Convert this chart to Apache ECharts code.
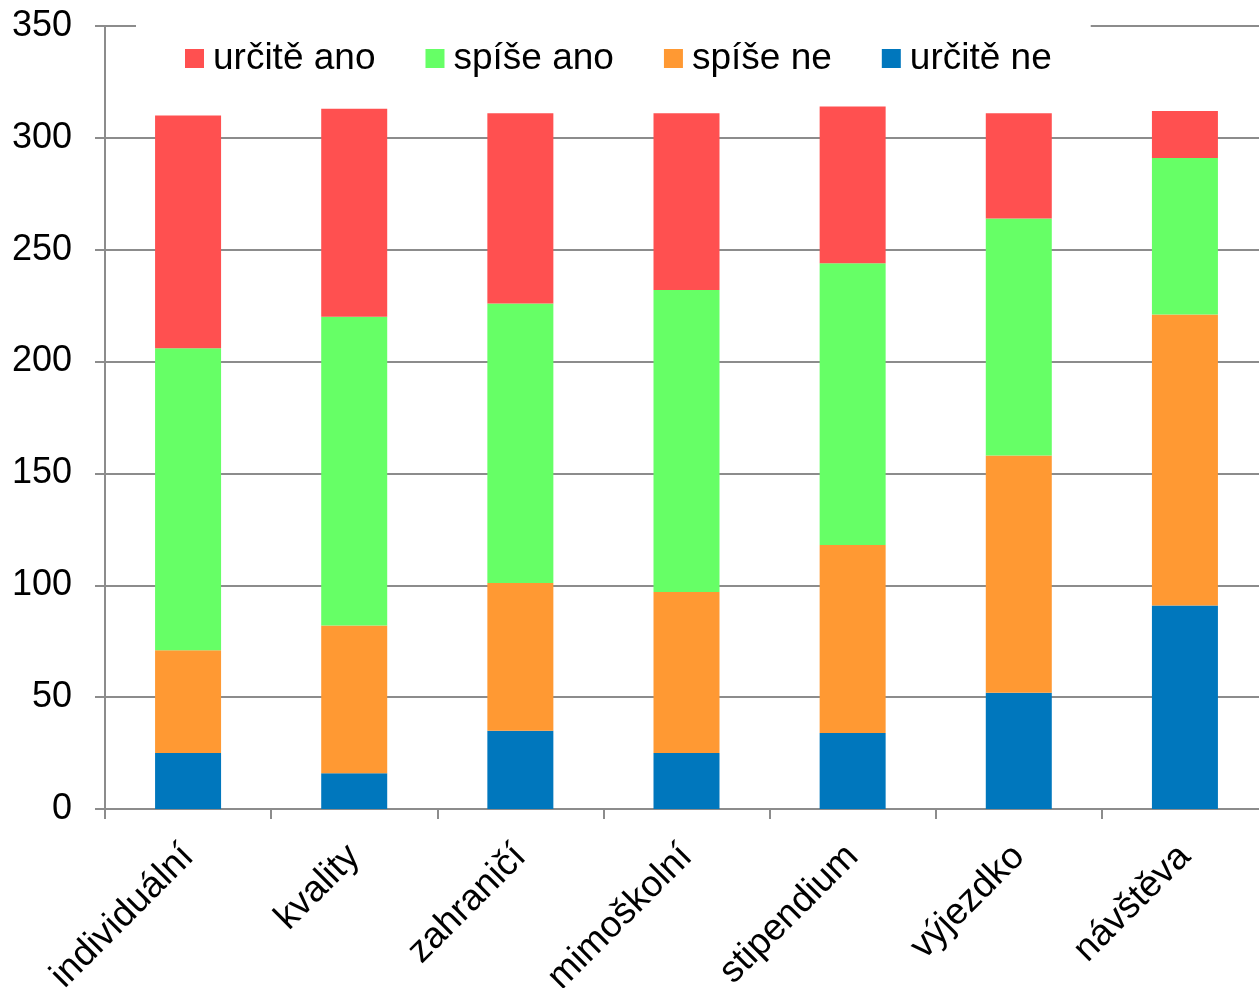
<!doctype html>
<html>
    <head>
        <meta charset="utf-8">
        <title>stacked bars</title>
        <style>
            html, body { margin: 0; padding: 0; background: #fff; }
            #main { width: 1259px; height: 988px; }
        </style>
    </head>
    <body>
        <div id="main"></div>
        <script src="https://cdn.jsdelivr.net/npm/echarts@6/dist/echarts.min.js"></script>
        <script>
            var categories = ['individuální', 'kvality', 'zahraničí', 'mimoškolní', 'stipendium', 'výjezdko', 'návštěva'];
            var legendNames = ['určitě ano', 'spíše ano', 'spíše ne', 'určitě ne'];

            // values from the bottom of each bar upwards
            var urciteNe = [25, 16, 35, 25, 34, 52, 91];
            var spiseNe = [46, 66, 66, 72, 84, 106, 130];
            var spiseAno = [135, 138, 125, 135, 126, 106, 70];
            var urciteAno = [104, 93, 85, 79, 70, 47, 21];

            var font = 'Liberation Sans, Arial, sans-serif';
            var gray = '#8c8c8c';

            function bar(name, data, color) {
                return {
                    name: name,
                    type: 'bar',
                    stack: 'all',
                    barWidth: 66,
                    data: data,
                    itemStyle: { color: color },
                    emphasis: { disabled: true }
                };
            }

            var chart = echarts.init(document.getElementById('main'));
            chart.setOption({
                animation: false,
                backgroundColor: '#fff',
                textStyle: { fontFamily: font },
                legend: {
                    data: legendNames,
                    left: 136,
                    top: 20,
                    padding: [20, 39, 20, 49],
                    backgroundColor: '#fff',
                    icon: 'rect',
                    itemWidth: 19,
                    itemHeight: 19,
                    itemGap: 50,
                    textStyle: {
                        fontSize: 37,
                        color: '#000',
                        fontFamily: font,
                        padding: [0, 0, 0, 4]
                    }
                },
                grid: {
                    left: 105,
                    top: 26,
                    width: 1163,
                    height: 783,
                    containLabel: false,
                    outerBoundsMode: 'none'
                },
                xAxis: {
                    type: 'category',
                    data: categories,
                    axisLine: { lineStyle: { color: gray, width: 2 } },
                    axisTick: { show: true, length: 10, lineStyle: { color: gray, width: 2 } },
                    axisLabel: {
                        rotate: 45,
                        fontSize: 37,
                        color: '#000',
                        fontFamily: font,
                        margin: 42,
                        interval: 0
                    }
                },
                yAxis: {
                    type: 'value',
                    min: 0,
                    max: 350,
                    interval: 50,
                    axisLine: { show: true, lineStyle: { color: gray, width: 2 } },
                    axisTick: { show: true, length: 10, lineStyle: { color: gray, width: 2 } },
                    axisLabel: {
                        fontSize: 36,
                        color: '#000',
                        fontFamily: font,
                        margin: 33
                    },
                    splitLine: { show: true, lineStyle: { color: gray, width: 2 } }
                },
                series: [
                    bar('určitě ne', urciteNe, '#0077bd'),
                    bar('spíše ne', spiseNe, '#ff9933'),
                    bar('spíše ano', spiseAno, '#66ff66'),
                    bar('určitě ano', urciteAno, '#ff5050')
                ]
            });
        </script>
    </body>
</html>
